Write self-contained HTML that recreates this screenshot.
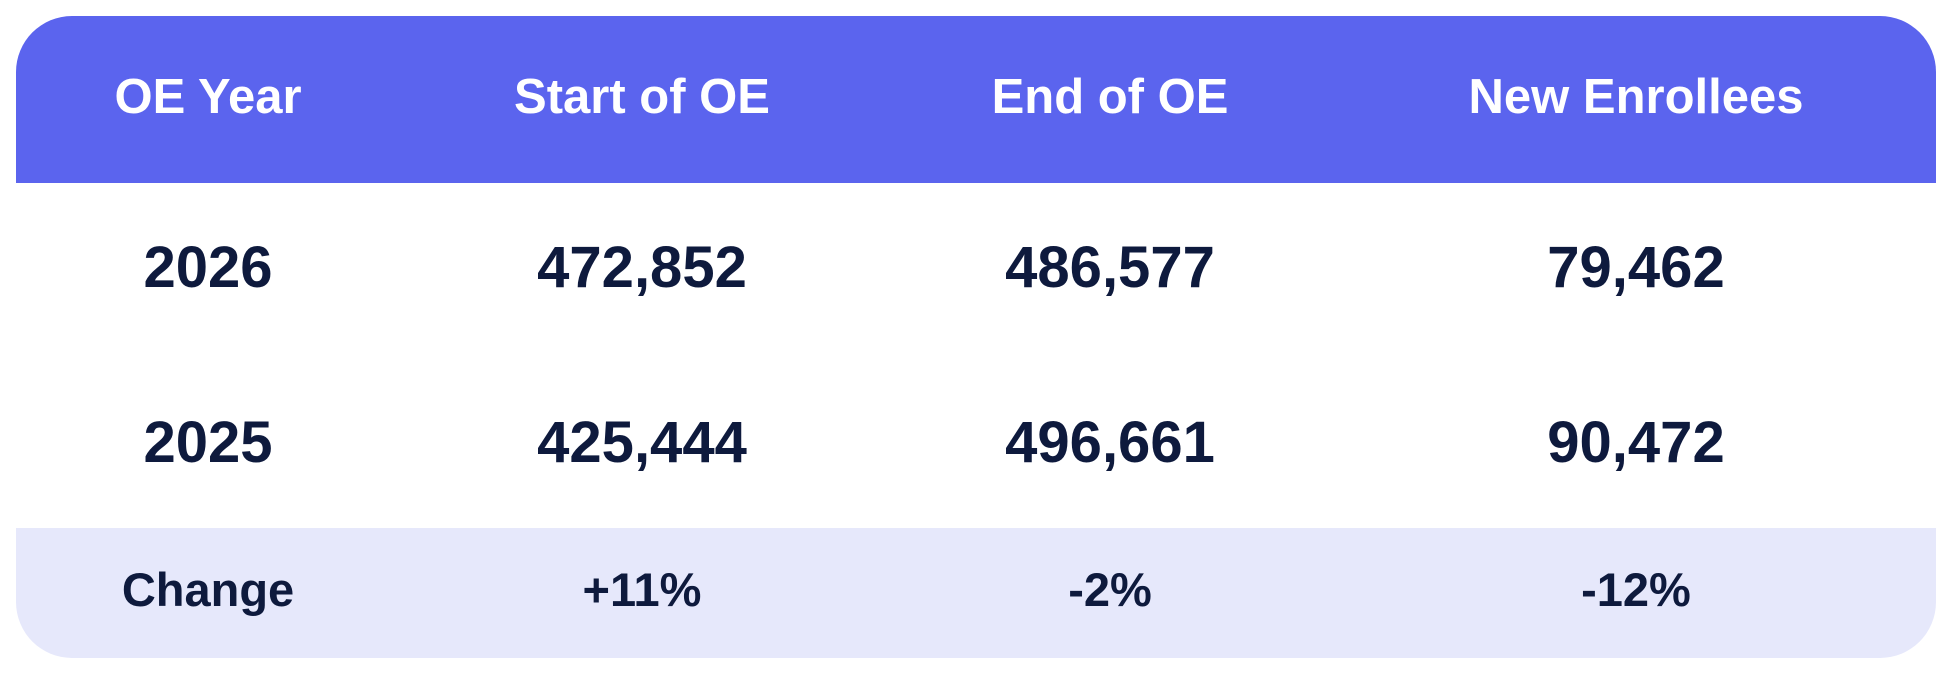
<!DOCTYPE html>
<html><head><meta charset="utf-8"><style>
html,body{margin:0;padding:0;background:#fff;width:1954px;height:676px;overflow:hidden}
svg{display:block}
text{font-family:"Liberation Sans",Arial,sans-serif;font-weight:bold;text-anchor:middle}
</style></head><body>
<svg width="1954" height="676" viewBox="0 0 1954 676">
<defs><clipPath id="c"><rect x="16" y="16" width="1920" height="642" rx="56" ry="56"/></clipPath></defs>
<g clip-path="url(#c)">
<rect x="16" y="16" width="1920" height="642" fill="#fff"/>
<rect x="16" y="16" width="1920" height="167" fill="#5B64EE"/>
<rect x="16" y="528" width="1920" height="130" fill="#E6E8FB"/>
</g>
<g fill="#fff" font-size="49">
<text x="208" y="113">OE Year</text>
<text x="642" y="113">Start of OE</text>
<text x="1110" y="113">End of OE</text>
<text x="1636" y="113">New Enrollees</text>
</g>
<g fill="#0E1A3D" font-size="58">
<text x="208" y="287">2026</text>
<text x="642" y="287">472,852</text>
<text x="1110" y="287">486,577</text>
<text x="1636" y="287">79,462</text>
<text x="208" y="462">2025</text>
<text x="642" y="462">425,444</text>
<text x="1110" y="462">496,661</text>
<text x="1636" y="462">90,472</text>
</g>
<g fill="#0E1A3D" font-size="47">
<text x="208" y="606">Change</text>
<text x="642" y="606">+11%</text>
<text x="1110" y="606">-2%</text>
<text x="1636" y="606">-12%</text>
</g>
</svg>
</body></html>
